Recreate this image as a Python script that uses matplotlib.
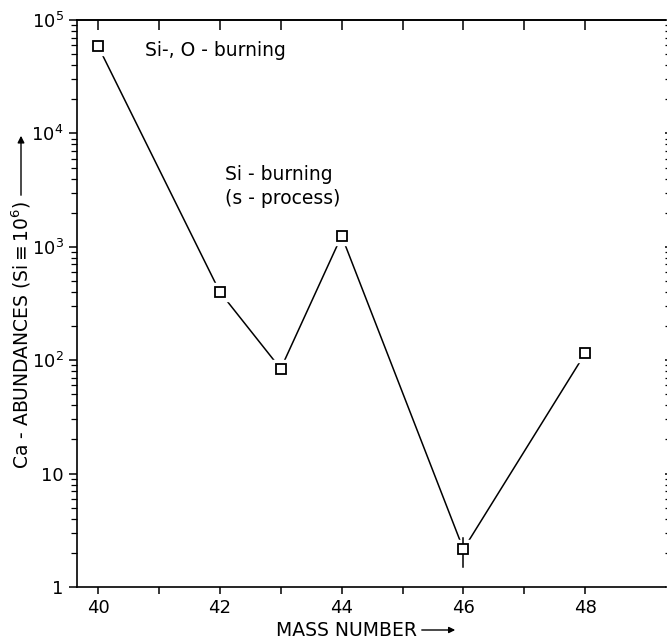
import matplotlib
matplotlib.use("Agg")
import matplotlib.pyplot as plt
from matplotlib.ticker import LogLocator, NullFormatter, FixedLocator

mass = [40, 42, 43, 44, 46, 48]
abund = [5.9e4, 400, 84, 1250, 2.15, 115]
err_mass = [46]
err_lo = [1.5]
err_hi = [2.7]
yticks = [1, 10, 100, 1e3, 1e4, 1e5]
ytick_labels = ["1", "10", "10$^2$", "10$^3$", "10$^4$", "10$^5$"]
xticks = [40, 42, 44, 46, 48]

plt.rcParams['font.family'] = ['DejaVu Sans']
fig = plt.figure(figsize=(6.67, 6.43), dpi=100)
ax = fig.add_axes([77/667, 1-587/643, 588/667, 567/643])
ax.set_yscale('log')
ax.set_ylim(1, 1e5)
ax.set_xlim(39.655, 49.31)

ax.plot(mass, abund, color='black', lw=1.1, zorder=2)
ax.plot(mass, abund, ls='none', marker='s', ms=13, mfc='white', mec='white', zorder=3)
for m, lo, hi in zip(err_mass, err_lo, err_hi):
    ax.plot([m, m], [lo, hi], color='black', lw=1.1, zorder=4)
ax.plot(mass, abund, ls='none', marker='s', ms=7, mfc='white', mec='black', mew=1.3, zorder=5)

ax.set_yticks(yticks)
ax.set_yticklabels(ytick_labels)
ax.yaxis.set_minor_locator(LogLocator(base=10, subs=range(2, 10)))
ax.yaxis.set_minor_formatter(NullFormatter())
ax.set_xticks(xticks)
ax.set_xticklabels([str(t) for t in xticks])
ax.xaxis.set_minor_locator(FixedLocator([41, 43, 45, 47]))

ax.spines['right'].set_visible(False)
for s in ['left', 'bottom', 'top']:
    ax.spines[s].set_linewidth(1.2)

ax.tick_params(axis='y', which='both', left=True, right=True, direction='out', labelsize=13)
ax.tick_params(axis='y', which='major', length=6, width=1.1)
ax.tick_params(axis='y', which='minor', length=4, width=0.9)
ax.tick_params(axis='x', which='both', bottom=True, top=False, direction='out', labelsize=13, width=1.1, length=5)

# top axis: inward ticks
sec = ax.secondary_xaxis('top')
sec.set_xticks(list(range(40, 49)))
sec.set_xticklabels([])
sec.tick_params(direction='in', length=7, width=1.1)
sec.spines['top'].set_linewidth(1.2)

ax.text(40.77, 5.4e4, "Si-, O - burning", fontsize=13.5, va='center', ha='left')
ax.text(42.08, 3.4e3, "Si - burning\n(s - process)", fontsize=13.5, va='center', ha='left', linespacing=1.3)

fig.text(21/667, 1-335/643, "Ca - ABUNDANCES (Si$\\equiv$10$^6$)", rotation=90, fontsize=13.5,
         ha='center', va='center')
fig.patches.append(matplotlib.patches.FancyArrowPatch((21/667, 1-198/643), (21/667, 1-133/643),
                   transform=fig.transFigure, arrowstyle='-|>', mutation_scale=10, color='black', lw=1.0))
fig.text(346/667, 1-630/643, "MASS NUMBER", fontsize=13.5, ha='center', va='center')
fig.patches.append(matplotlib.patches.FancyArrowPatch((419/667, 1-630/643), (458/667, 1-630/643),
                   transform=fig.transFigure, arrowstyle='-|>', mutation_scale=9, color='black', lw=1.0))

fig.savefig("out.png", dpi=100)
